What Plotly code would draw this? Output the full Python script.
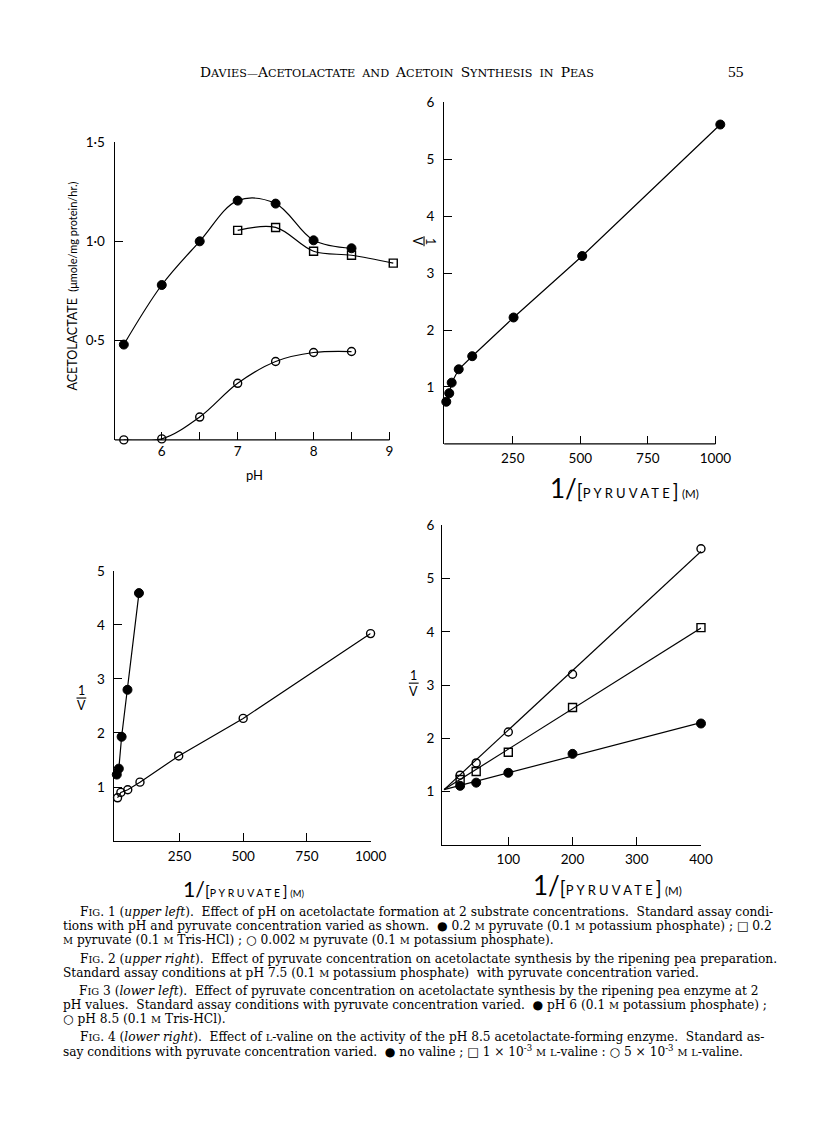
import plotly.graph_objects as go
import numpy as np

# ---------------- data ----------------
# Fig. 1 : acetolactate vs pH
fig1_ph = [5.5, 6.0, 6.5, 7.0, 7.5, 8.0, 8.5]
fig1_phosphate_02M = [0.48, 0.78, 1.00, 1.205, 1.19, 1.005, 0.965]
fig1_tris_ph = [7.0, 7.5, 8.0, 8.5, 9.05]
fig1_tris_02M = [1.055, 1.07, 0.95, 0.93, 0.89]
fig1_phosphate_0002M = [0.0, 0.005, 0.115, 0.285, 0.395, 0.44, 0.445]

# Fig. 2 : 1/v vs 1/[pyruvate], pH 7.5
fig2_inv_pyr = [4, 15, 24, 50, 100, 253, 507, 1018]
fig2_inv_v = [0.74, 0.89, 1.075, 1.31, 1.54, 2.22, 3.30, 5.61]

# Fig. 3 : pH 6 (filled) and pH 8.5 (open)
fig3_ph6_x = [4, 12, 23, 46, 91]
fig3_ph6_y = [1.23, 1.34, 1.93, 2.80, 4.59]
fig3_ph85_x = [7, 20, 47, 95, 247, 500, 1000]
fig3_ph85_y = [0.80, 0.90, 0.95, 1.09, 1.575, 2.27, 3.84]

# Fig. 4 : valine effect
fig4_x = [25, 50, 100, 200, 400]
fig4_no_valine = [1.11, 1.17, 1.355, 1.71, 2.28]
fig4_valine_1e3 = [1.23, 1.38, 1.74, 2.58, 4.08]
fig4_valine_5e3 = [1.31, 1.54, 2.12, 3.205, 5.56]
fig4_common_intercept = 1.04

# tick labels
fig1_x_ticks = [6, 7, 8, 9]
fig1_x_minor = [6.5, 7.5, 8.5]
fig1_y_ticks = [0.5, 1.0, 1.5]
fig1_y_text = ["0·5", "1·0", "1·5"]
fig2_x_ticks = [250, 500, 750, 1000]
fig2_y_ticks = [1, 2, 3, 4, 5, 6]
fig3_x_ticks = [250, 500, 750, 1000]
fig3_y_ticks = [1, 2, 3, 4, 5]
fig4_x_ticks = [100, 200, 300, 400]
fig4_y_ticks = [1, 2, 3, 4, 5, 6]

# ---------------- layout helpers ----------------
W, H = 816, 1121
def fx(px):
    return px / W
def fy(py):
    return 1 - py / H

SANS = "Lato, 'Noto Sans', sans-serif"
AX_FONT = dict(family=SANS, size=13.5, color="black")
SERIF = "'DejaVu Serif', 'Liberation Serif', serif"

fig = go.Figure()

filled = dict(symbol="circle", size=9, color="black", line=dict(color="black", width=1))
open_c = dict(symbol="circle-open", size=8, color="black", line=dict(color="black", width=1.4))
open_s = dict(symbol="square-open", size=8, color="black", line=dict(color="black", width=1.4))
LINE = dict(color="black", width=1.2)

def add(x, y, xa, ya, marker, shape="linear", mode="lines+markers"):
    fig.add_trace(go.Scatter(x=x, y=y, xaxis=xa, yaxis=ya, mode=mode,
                             line=dict(LINE, shape=shape), marker=marker,
                             cliponaxis=False, showlegend=False, hoverinfo="skip"))

# Fig 1
add(fig1_ph, fig1_phosphate_02M, "x", "y", filled, "spline")
add(fig1_tris_ph, fig1_tris_02M, "x", "y", open_s, "spline")
add(fig1_ph, fig1_phosphate_0002M, "x", "y", open_c, "spline")

# Fig 2
add(fig2_inv_pyr, fig2_inv_v, "x2", "y2", filled)

# Fig 3
add(fig3_ph6_x, fig3_ph6_y, "x3", "y3", filled)
add(fig3_ph85_x, fig3_ph85_y, "x3", "y3", open_c)

# Fig 4: fitted lines through a common intercept, then the points
fx4 = np.array(fig4_x, dtype=float)
for ys, mk in [(fig4_no_valine, filled), (fig4_valine_1e3, open_s), (fig4_valine_5e3, open_c)]:
    yv = np.array(ys) - fig4_common_intercept
    slope = float(np.sum(fx4 * yv) / np.sum(fx4 ** 2))
    xl = [0, max(fig4_x)]
    yl = [fig4_common_intercept, fig4_common_intercept + slope * max(fig4_x)]
    add(xl, yl, "x4", "y4", None, mode="lines")
    fig.add_trace(go.Scatter(x=fig4_x, y=ys, xaxis="x4", yaxis="y4", mode="markers",
                             marker=mk, cliponaxis=False, showlegend=False, hoverinfo="skip"))

def axis(domain, rng, anchor, tickvals, ticktext=None, standoff=0, showline=True, minor=None):
    d = dict(domain=domain, range=rng, anchor=anchor, showline=showline, linecolor="black",
             linewidth=1.3, ticks="inside", ticklen=8, tickwidth=1.3, tickcolor="black",
             showgrid=False, zeroline=False, tickvals=tickvals, tickfont=AX_FONT,
             fixedrange=True, ticklabelstandoff=standoff)
    if ticktext is not None:
        d["ticktext"] = ticktext
    if minor is not None:
        d["minor"] = dict(tickvals=minor, ticks="inside", ticklen=8, tickwidth=1.3,
                          tickcolor="black", showgrid=False)
    return d

BLACK = dict(color="black", width=1.3)
shapes = [
    dict(type="line", xref="x", yref="y domain", x0=5.38, x1=9.0, y0=0, y1=0, line=BLACK),
    dict(type="line", xref="x2", yref="y2 domain", x0=-4, x1=1000, y0=0, y1=0, line=BLACK),
]

ann = []
def text(px, py, t, size=13, family=SANS, xanchor="center", angle=0, **kw):
    ann.append(dict(x=fx(px), y=fy(py), xref="paper", yref="paper", text=t, showarrow=False,
                    xanchor=xanchor, yanchor="middle", textangle=angle,
                    font=dict(family=family, size=size, color="black", **kw)))

# "1 over V" labels: numerator, rule, denominator
def frac_upright(cx, top, bar, bottom):
    text(cx, top, "1", size=12.5)
    text(cx, bottom, "V", size=12.5)
    shapes.append(dict(type="line", xref="paper", yref="paper", x0=fx(cx - 5), x1=fx(cx + 5),
                       y0=fy(bar), y1=fy(bar), line=dict(color="black", width=1.1)))

def frac_rotated(cy, left, bar, right):
    text(left, cy, "V", size=12.5, angle=90)
    text(right, cy, "1", size=12.5, angle=90)
    shapes.append(dict(type="line", xref="paper", yref="paper", x0=fx(bar), x1=fx(bar),
                       y0=fy(cy - 5), y1=fy(cy + 5), line=dict(color="black", width=1.1)))

frac_rotated(235, 426, 432.5, 439)
frac_upright(83, 687, 695, 703)
frac_upright(422, 672, 680, 688)

# header in small capitals
def big_small(word, big=13.8, small=11.2):
    return "<span style='font-size:%spx'>%s</span><span style='font-size:%spx'>%s</span>" % (big, word[0], small, word[1:])
def all_small(word, small=11.2):
    return "<span style='font-size:%spx'>%s</span>" % (small, word)
SP = "&nbsp;&nbsp;"
hdr = (big_small("DAVIES") + "—" + big_small("ACETOLACTATE") + SP + all_small("AND") + SP
       + big_small("ACETOIN") + SP + big_small("SYNTHESIS") + SP + all_small("IN") + SP + big_small("PEAS"))
text(405, 64, hdr, size=11, family=SERIF)
text(751, 64, "55", size=15.5, family="'Liberation Serif', serif")

# axis titles
text(260, 470, "pH", size=13)
text(73, 280, "ACETOLACTATE&nbsp;&nbsp;<span style='font-size:11px'>(μmole/mg protein/hr.)</span>",
     size=12.5, angle=-90)

def pyr_title(s=1.0):
    return ("<span style='font-size:%.1fpx'>1</span><span style='font-size:%.1fpx'>/</span>"
            "<span style='font-size:%.1fpx'>[</span><span style='letter-spacing:%.1fpx'>PYRUVATE</span>"
            "<span style='font-size:%.1fpx'>]</span>"
            "&nbsp;<span style='font-size:%.1fpx'>(M)</span>") % (26 * s, 26 * s, 19 * s, 3.2 * s, 19 * s, 11.5 * s)
text(637, 483, pyr_title(), size=13)
text(620, 883, pyr_title(), size=13)
text(248, 887, pyr_title(0.82), size=10.5)

# captions
sm = lambda s: "<span style='font-size:9.8px'>%s</span>" % s
M = sm("M")
FIG = "F" + sm("IG")
cap = [
    (80, 910, FIG + ". 1 (<i>upper left</i>).&nbsp; Effect of pH on acetolactate formation at 2 substrate concentrations.&nbsp; Standard assay condi-"),
    (62, 925, "tions with pH and pyruvate concentration varied as shown.&nbsp; ● 0.2 " + M + " pyruvate (0.1 " + M + " potassium phosphate) ; □ 0.2"),
    (62, 939, M + " pyruvate (0.1 " + M + " Tris-HCl) ; ○ 0.002 " + M + " pyruvate (0.1 " + M + " potassium phosphate)."),
    (80, 958, FIG + ". 2 (<i>upper right</i>).&nbsp; Effect of pyruvate concentration on acetolactate synthesis by the ripening pea preparation."),
    (62, 972, "Standard assay conditions at pH 7.5 (0.1 " + M + " potassium phosphate)&nbsp; with pyruvate concentration varied."),
    (79, 990, FIG + " 3 (<i>lower left</i>).&nbsp; Effect of pyruvate concentration on acetolactate synthesis by the ripening pea enzyme at 2"),
    (62, 1004, "pH values.&nbsp; Standard assay conditions with pyruvate concentration varied.&nbsp; ● pH 6 (0.1 " + M + " potassium phosphate) ;"),
    (62, 1018, "○ pH 8.5 (0.1 " + M + " Tris-HCl)."),
    (80, 1036, FIG + ". 4 (<i>lower right</i>).&nbsp; Effect of " + sm("L") + "-valine on the activity of the pH 8.5 acetolactate-forming enzyme.&nbsp; Standard as-"),
    (62, 1050, "say conditions with pyruvate concentration varied.&nbsp; ● no valine ; □ 1 × 10<sup>-3</sup> " + M + " " + sm("L") + "-valine : ○ 5 × 10<sup>-3</sup> " + M + " " + sm("L") + "-valine."),
]
for x0, y0, t in cap:
    text(x0, y0, t, size=12.2, family=SERIF, xanchor="left")

# Fig1 x: axis line stops at pH 9; Fig2 x: axis line stops at 1000 (drawn as shapes above)
fig.update_layout(
    width=W, height=H, margin=dict(l=0, r=0, t=0, b=0),
    paper_bgcolor="white", plot_bgcolor="rgba(0,0,0,0)",
    xaxis=axis([fx(117), fx(405)], [5.38, 9.1], "y", fig1_x_ticks, standoff=2,
               showline=False, minor=fig1_x_minor),
    yaxis=axis([fy(435), fy(135)], [0, 1.5], "x", fig1_y_ticks, fig1_y_text, standoff=6),
    xaxis2=axis([fx(453), fx(738)], [-4, 1030], "y2", fig2_x_ticks, standoff=5, showline=False),
    yaxis2=axis([fy(439), fy(95)], [0, 6], "x2", fig2_y_ticks, standoff=6),
    xaxis3=axis([fx(116), fx(378)], [-8, 1000], "y3", fig3_x_ticks, standoff=3),
    yaxis3=axis([fy(839), fy(567)], [0, 5], "x3", fig3_y_ticks, standoff=5),
    xaxis4=axis([fx(451), fx(715)], [-3, 400], "y4", fig4_x_ticks, standoff=2),
    yaxis4=axis([fy(843), fy(521)], [0, 6], "x4", fig4_y_ticks, standoff=4),
    shapes=shapes,
    annotations=ann,
)

fig.write_html("out.html", config={"displayModeBar": False},
               post_script="document.body.style.margin='0px';")
